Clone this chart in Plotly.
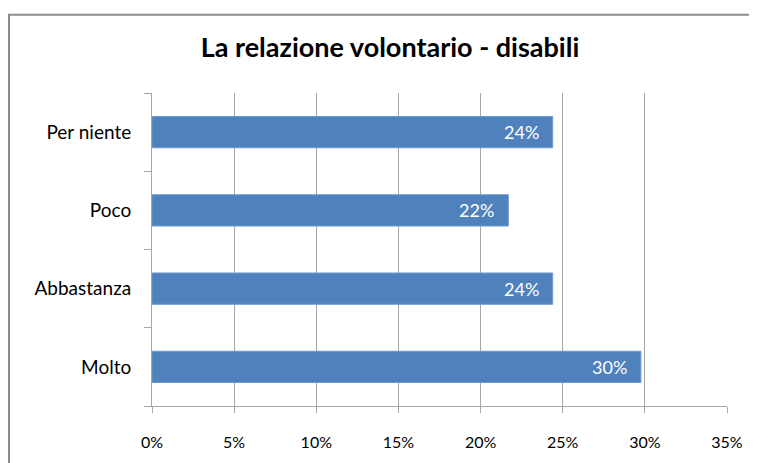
import plotly.graph_objects as go

categories = ["Per niente", "Poco", "Abbastanza", "Molto"]
values = [0.2439, 0.2169, 0.2439, 0.2976]
labels = ["24%", "22%", "24%", "30%"]
title = "La relazione volontario - disabili"

# page body has an 8px margin; figure is sized to fit inside the window
OFF = 8
W, H = 749, 455
L, R, T, B = 144, 30, 84.5, 56.5
pw, ph = W - L - R, H - T - B

fig = go.Figure()
fig.add_trace(go.Bar(
    x=values, y=categories, orientation="h",
    marker=dict(color="#4F81BD", line=dict(color="#6F9AD0", width=1)),
    width=0.4,
    hoverinfo="skip",
))
for c, v, t in zip(categories, values, labels):
    fig.add_annotation(x=v, y=c, text=t, showarrow=False, xanchor="right",
                       xshift=-12, font=dict(color="white", size=18, family="Lato"))

fig.update_layout(
    width=W, height=H,
    margin=dict(l=L, r=R, t=T, b=B, pad=0),
    paper_bgcolor="white", plot_bgcolor="white",
    showlegend=False,
    title=dict(text=title, x=(390 - OFF - L) / pw, xref="paper", xanchor="center",
               y=1 - (48 - OFF) / H, yanchor="middle",
               font=dict(family="Lato", size=27, color="black", weight="bold")),
    font=dict(family="Lato", size=16, color="black"),
)
fig.update_xaxes(
    range=[0, 0.35], dtick=0.05, tick0=0, tickformat=".0%",
    showgrid=True, gridcolor="#A6A6A6", gridwidth=1,
    showline=True, linecolor="#A6A6A6", linewidth=1,
    ticks="outside", ticklen=6, tickcolor="#A6A6A6",
    ticklabelstandoff=16, zeroline=False,
    tickfont=dict(size=16, color="black"),
)
fig.update_yaxes(
    categoryorder="array", categoryarray=categories[::-1],
    range=[-0.5, 3.5],
    showline=True, linecolor="#A6A6A6", linewidth=1,
    ticks="outside", ticklen=7, tickcolor="#A6A6A6", tickson="boundaries",
    ticklabelstandoff=16, showgrid=False,
    tickfont=dict(size=19, color="black"),
)
# outer chart frame (only left and top edges are visible in the window)
fig.add_shape(type="line", xref="paper", yref="paper",
              x0=(1 - L) / pw, x1=(1 - L) / pw,
              y0=(H - B - (H + 20)) / ph, y1=(H - B - (14 - OFF)) / ph,
              line=dict(color="#8C8C8C", width=2), layer="above")
fig.add_shape(type="line", xref="paper", yref="paper",
              x0=(0 - L) / pw, x1=(W + 50 - L) / pw,
              y0=(H - B - (14 - OFF)) / ph, y1=(H - B - (14 - OFF)) / ph,
              line=dict(color="#8C8C8C", width=2), layer="above")

fig.write_html("out.html", config={"displayModeBar": False})
